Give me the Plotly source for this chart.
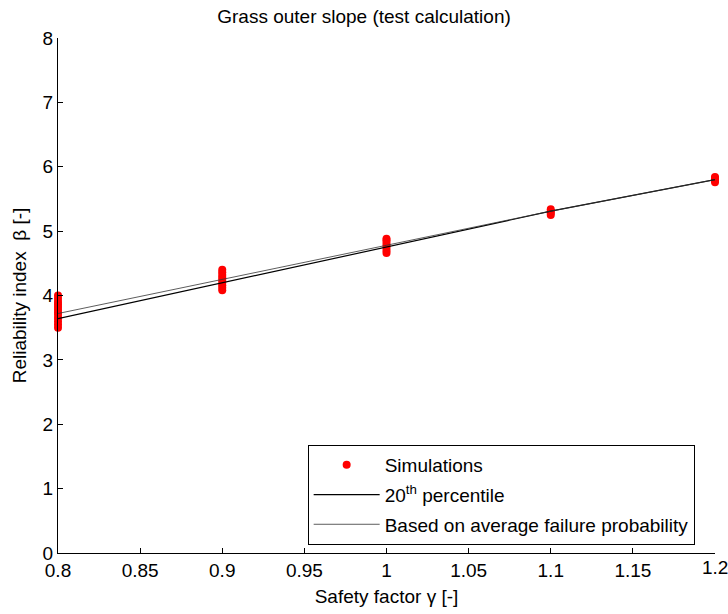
import plotly.graph_objects as go

gamma = [0.8, 0.9, 1.0, 1.1, 1.2]
sim_08 = [3.50, 3.55, 3.60, 3.65, 3.70, 3.74, 3.78, 3.82, 3.86, 3.90, 3.95, 4.00]
sim_09 = [4.08, 4.12, 4.16, 4.20, 4.24, 4.28, 4.32, 4.36, 4.40]
sim_10 = [4.66, 4.70, 4.74, 4.78, 4.82, 4.86, 4.88]
sim_11 = [5.25, 5.28, 5.31, 5.34]
sim_12 = [5.76, 5.79, 5.82, 5.84]
perc20 = [3.64, 4.20, 4.75, 5.31, 5.80]
avg_pf = [3.72, 4.25, 4.78, 5.31, 5.80]
xticks = [0.8, 0.85, 0.9, 0.95, 1.0, 1.05, 1.1, 1.15, 1.2]
xticklabels = ["0.8", "0.85", "0.9", "0.95", "1", "1.05", "1.1", "1.15", "1.2"]

sim_groups = [sim_08, sim_09, sim_10, sim_11, sim_12]
sx, sy = [], []
for g, vals in zip(gamma, sim_groups):
    sx += [g] * len(vals)
    sy += vals

font = "Liberation Sans, Arial, sans-serif"
fig = go.Figure()
fig.add_trace(go.Scatter(x=sx, y=sy, mode="markers", name="Simulations", legendgroup="a",
                         marker=dict(color="#ff0000", size=8), cliponaxis=False))
fig.add_trace(go.Scatter(x=gamma, y=perc20, mode="lines", name="20<sup>th</sup> percentile",
                         legendgroup="b", line=dict(color="black", width=1.2)))
fig.add_trace(go.Scatter(x=gamma, y=avg_pf, mode="lines", name="Based on average failure probability",
                         legendgroup="c", line=dict(color="#333333", width=0.8)))

# last tick label would overflow the page edge; plotly drops it, so draw it as text
fig.add_annotation(x=xticks[-1], y=0, xref="x", yref="paper", text=xticklabels[-1],
                   showarrow=False, xanchor="center", yanchor="top", yshift=-2,
                   font=dict(size=19, family=font, color="black"))

fig.update_layout(
    width=728, height=614,
    margin=dict(l=58, r=13, t=38, b=61, autoexpand=False),
    paper_bgcolor="white", plot_bgcolor="white",
    font=dict(family=font, color="black", size=19),
    title=dict(text="Grass outer slope (test calculation)", x=0.5, xanchor="center",
               y=0.985, yanchor="top", font=dict(size=19)),
    showlegend=True,
    legend=dict(x=0.38, y=0.0155, xanchor="left", yanchor="bottom",
                bordercolor="black", borderwidth=1, bgcolor="white",
                font=dict(size=19), tracegroupgap=2, itemwidth=66),
    xaxis=dict(range=[0.8, 1.2], tickvals=xticks[:-1], ticktext=xticklabels[:-1],
               ticks="inside", ticklen=5, tickcolor="black", showline=True, linecolor="black",
               linewidth=1, showgrid=False, zeroline=False,
               title=dict(text="Safety factor γ [-]", font=dict(size=19), standoff=9),
               tickfont=dict(size=19)),
    yaxis=dict(range=[0, 8], tickvals=list(range(0, 9)),
               ticks="inside", ticklen=5, tickcolor="black", showline=True, linecolor="black",
               linewidth=1, showgrid=False, zeroline=False,
               title=dict(text="Reliability index  β [-]", font=dict(size=19), standoff=10),
               tickfont=dict(size=19)),
)
fig.write_html("out.html")
